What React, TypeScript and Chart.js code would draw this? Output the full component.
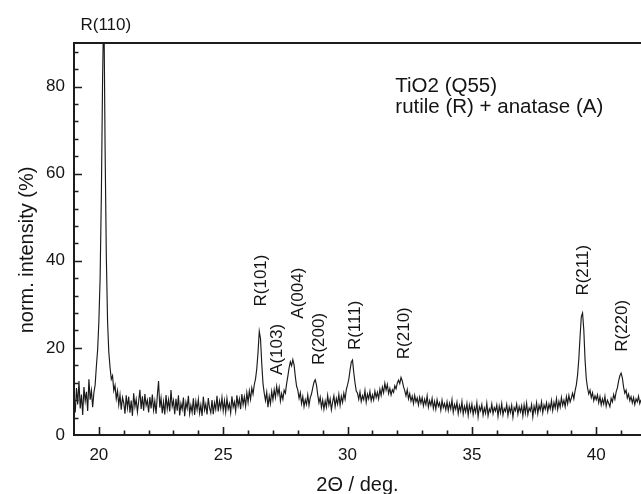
import React, { useEffect, useRef } from "react";
import { Chart, registerables } from "chart.js";

Chart.register(...registerables);

// ---- data -------------------------------------------------------------
const TWO_THETA_START = 19.0; // deg
const TWO_THETA_STEP = 0.05; // deg

// normalized intensity (%), one row per degree
const intensity: number[] = [
  // 19.00 - 19.95
  8.5, 5.2, 10.8, 7.0, 12.4, 6.1, 9.3, 4.6, 11.0, 7.8, 9.9, 5.5, 12.8, 8.1, 10.2, 6.4, 9.7, 11.5, 15.8, 19.5,
  // 20.00 - 20.95  R(110)
  26, 36, 55, 82, 100, 66, 41, 26, 19, 15.5, 12.8, 13.6, 10.2, 11.4, 8.3, 10.1, 6.9, 9.2, 5.8, 8.6,
  // 21.00 - 21.95
  7.4, 4.9, 9.1, 6.2, 8.8, 5.1, 7.9, 4.4, 9.6, 6.5, 8.2, 5.3, 7.7, 10.4, 6.0, 8.9, 5.6, 9.4, 6.8, 8.0,
  // 22.00 - 22.95
  5.2, 8.7, 6.1, 9.3, 5.7, 7.8, 4.9, 9.0, 12.4, 6.3, 8.5, 5.0, 7.6, 4.7, 9.2, 6.0, 8.1, 5.4, 10.3, 6.6,
  // 23.00 - 23.95
  7.9, 4.8, 8.3, 5.6, 9.1, 4.5, 7.2, 5.9, 8.6, 4.3, 7.5, 6.1, 9.0, 4.9, 6.8, 5.2, 8.4, 4.6, 7.7, 5.8,
  // 24.00 - 24.95
  8.2, 5.0, 6.9, 4.4, 8.8, 5.7, 7.1, 4.7, 8.5, 6.2, 5.1, 8.0, 4.8, 7.4, 5.9, 9.0, 5.4, 7.8, 6.1, 8.6,
  // 25.00 - 25.95
  5.6, 7.9, 5.3, 8.4, 6.0, 7.2, 5.1, 8.9, 6.4, 7.6, 5.5, 9.1, 6.7, 8.3, 5.9, 9.4, 7.0, 8.8, 6.6, 9.7,
  // 26.00 - 26.95  R(101)
  7.5, 10.1, 8.2, 10.8, 9.4, 11.6, 12.9, 15.2, 19.0, 23.8, 22.1, 16.4, 11.8, 9.6, 7.9, 9.8, 6.4, 8.9, 7.2, 10.0,
  // 27.00 - 27.95  A(103), A(004)
  8.1, 10.4, 8.6, 11.2, 9.3, 10.9, 7.8, 9.5, 8.2, 10.3, 9.6, 11.8, 13.5, 15.4, 16.8, 15.9, 17.3, 16.1, 13.4, 11.2,
  // 28.00 - 28.95  R(200)
  10.3, 8.4, 9.7, 7.2, 8.8, 6.5, 8.1, 7.0, 9.2, 6.8, 8.6, 9.4, 10.8, 12.1, 12.7, 11.5, 9.3, 7.4, 8.7, 6.3,
  // 29.00 - 29.95
  8.0, 5.9, 7.8, 6.4, 9.1, 6.9, 8.3, 5.8, 7.6, 9.0, 6.5, 8.4, 7.1, 9.3, 6.8, 8.9, 7.5, 9.6, 8.2, 10.4,
  // 30.00 - 30.95  R(111)
  11.5, 12.8, 14.9, 16.7, 17.2, 14.3, 12.0, 10.1, 9.6, 8.2, 9.9, 7.7, 9.0, 8.1, 10.2, 7.5, 9.4, 8.3, 10.0, 7.9,
  // 31.00 - 31.95
  9.2, 8.0, 10.1, 8.6, 9.8, 8.3, 10.5, 9.1, 11.0, 9.7, 11.9, 10.3, 11.6, 9.5, 10.7, 9.2, 10.4, 9.8, 11.3, 10.6,
  // 32.00 - 32.95  R(210)
  11.9, 12.6, 11.8, 13.2, 12.4, 11.1, 10.2, 9.0, 10.4, 8.3, 9.5, 7.8, 8.9, 7.2, 9.1, 7.6, 8.5, 6.9, 8.7, 7.3,
  // 33.00 - 33.95
  8.6, 6.7, 8.2, 7.0, 9.0, 6.4, 7.9, 6.8, 8.4, 6.1, 7.7, 5.9, 8.1, 6.6, 7.4, 5.7, 8.0, 6.3, 7.2, 5.8,
  // 34.00 - 34.95
  7.6, 5.6, 7.3, 6.0, 8.1, 5.2, 7.0, 5.9, 7.5, 4.9, 6.8, 5.5, 7.7, 4.8, 6.6, 5.3, 7.2, 4.5, 6.9, 5.4,
  // 35.00 - 35.95
  7.1, 4.7, 6.4, 5.2, 7.4, 4.2, 6.5, 5.6, 7.0, 4.6, 6.2, 5.0, 7.3, 4.4, 6.0, 5.3, 7.1, 4.9, 6.3, 5.5,
  // 36.00 - 36.95
  6.9, 4.3, 6.6, 5.1, 7.2, 4.6, 6.1, 5.4, 7.0, 4.5, 6.4, 5.2, 6.8, 4.1, 6.3, 5.6, 7.1, 4.8, 6.5, 5.3,
  // 37.00 - 37.95
  6.7, 4.4, 6.9, 5.0, 7.3, 4.7, 6.2, 5.5, 7.0, 4.2, 6.6, 5.3, 7.4, 4.9, 6.8, 5.7, 7.6, 5.1, 6.9, 5.9,
  // 38.00 - 38.95
  7.4, 5.4, 7.1, 6.0, 7.9, 5.6, 7.5, 6.2, 8.3, 5.9, 7.7, 6.4, 8.6, 6.8, 8.0, 6.5, 8.8, 7.2, 9.1, 7.6,
  // 39.00 - 39.95  R(211)
  8.5, 9.6, 8.3, 10.2, 11.5, 13.8, 17.5, 22.6, 27.2, 28.0, 24.1, 17.3, 12.9, 10.8, 9.4, 10.3, 8.6, 9.7, 7.9, 9.0,
  // 40.00 - 40.95
  8.1, 9.2, 7.4, 8.8, 6.9, 8.3, 7.1, 8.9, 6.6, 8.0, 7.3, 6.5, 8.4, 7.6, 9.3, 8.2, 9.9, 10.8, 12.4, 13.6,
  // 41.00 - 41.80  R(220)
  14.2, 13.1, 11.0, 9.6, 10.3, 8.5, 9.4, 7.9, 8.8, 7.4, 8.6, 7.0, 8.3, 7.6, 8.9, 7.2, 8.1,
];

const X_MIN = 19;
const X_MAX = 41.8;
const Y_MIN = 0;
const Y_MAX = 90;

const xMajorTicks = [20, 25, 30, 35, 40];
const xMinorTicks = [21, 22, 23, 24, 26, 27, 28, 29, 31, 32, 33, 34, 36, 37, 38, 39, 41];
const yMajorTicks = [0, 20, 40, 60, 80];
const yMinorTicks = [4, 8, 12, 16, 24, 28, 32, 36, 44, 48, 52, 56, 64, 68, 72, 76, 84, 88];

const xTitle = "2\u0398 / deg.";
const yTitle = "norm. intensity (%)";

// vertical reflection labels: text, 2θ position, intensity at the label's lower end
const peakLabels = ["R(101)", "A(103)", "A(004)", "R(200)", "R(111)", "R(210)", "R(211)", "R(220)"];
const peakLabelTheta = [26.55, 27.19, 28.01, 28.85, 30.3, 32.27, 39.47, 41.05];
const peakLabelBase = [29.5, 13.8, 26.7, 16.1, 19.5, 17.4, 32.0, 19.1];

// horizontal label above the clipped main peak
const mainPeakLabel = "R(110)";
const mainPeakTheta = 20.28;
const mainPeakLabelLevel = 92.9;

// sample description
const sampleLines = ["TiO2 (Q55)", "rutile (R) + anatase (A)"];
const sampleTheta = 31.92;
const sampleLevels = [78.7, 73.9];

// ---- styling ----------------------------------------------------------
const FONT = "'Liberation Sans', Arial, sans-serif";
const INK = "#141414";

const overlayPlugin = {
  id: "xrdOverlay",
  afterDraw(chart: any) {
    const { ctx, chartArea: ca } = chart;
    const xs = chart.scales.x;
    const ys = chart.scales.y;
    ctx.save();

    // frame: left, bottom, top (right side is cut off in the figure)
    ctx.strokeStyle = "#1c1c1c";
    ctx.lineWidth = 2;
    ctx.beginPath();
    ctx.moveTo(ca.right, ca.top);
    ctx.lineTo(ca.left, ca.top);
    ctx.lineTo(ca.left, ca.bottom);
    ctx.lineTo(ca.right, ca.bottom);
    ctx.stroke();

    // inward ticks
    ctx.lineWidth = 1.6;
    ctx.beginPath();
    for (const v of xMajorTicks) {
      const p = Math.round(xs.getPixelForValue(v)) + 0.5;
      ctx.moveTo(p, ca.bottom);
      ctx.lineTo(p, ca.bottom - 8);
    }
    for (const v of xMinorTicks) {
      const p = Math.round(xs.getPixelForValue(v)) + 0.5;
      ctx.moveTo(p, ca.bottom);
      ctx.lineTo(p, ca.bottom - 4.5);
    }
    for (const v of yMajorTicks) {
      if (v === Y_MIN) continue;
      const p = Math.round(ys.getPixelForValue(v)) + 0.5;
      ctx.moveTo(ca.left, p);
      ctx.lineTo(ca.left + 8, p);
    }
    for (const v of yMinorTicks) {
      const p = Math.round(ys.getPixelForValue(v)) + 0.5;
      ctx.moveTo(ca.left, p);
      ctx.lineTo(ca.left + 4.5, p);
    }
    ctx.stroke();

    ctx.fillStyle = INK;

    // axis titles
    ctx.font = `20px ${FONT}`;
    ctx.textAlign = "center";
    ctx.textBaseline = "alphabetic";
    ctx.fillText(xTitle, (ca.left + ca.right) / 2, ca.bottom + 56);
    ctx.save();
    ctx.translate(ca.left - 41.5, (ca.top + ca.bottom) / 2 + 11);
    ctx.rotate(-Math.PI / 2);
    ctx.fillText(yTitle, 0, 0);
    ctx.restore();

    // main peak label
    ctx.font = `17px ${FONT}`;
    ctx.textAlign = "center";
    ctx.textBaseline = "alphabetic";
    ctx.fillText(mainPeakLabel, xs.getPixelForValue(mainPeakTheta), ys.getPixelForValue(mainPeakLabelLevel));

    // vertical peak labels
    ctx.textAlign = "left";
    ctx.textBaseline = "middle";
    peakLabels.forEach((t, i) => {
      ctx.save();
      ctx.translate(xs.getPixelForValue(peakLabelTheta[i]), ys.getPixelForValue(peakLabelBase[i]));
      ctx.rotate(-Math.PI / 2);
      ctx.fillText(t, 0, 0);
      ctx.restore();
    });

    // sample description
    ctx.font = `20.5px ${FONT}`;
    ctx.textAlign = "left";
    ctx.textBaseline = "alphabetic";
    sampleLines.forEach((t, i) => {
      ctx.fillText(t, xs.getPixelForValue(sampleTheta), ys.getPixelForValue(sampleLevels[i]));
    });

    ctx.restore();
  },
};

export default function App() {
  const canvasRef = useRef<HTMLCanvasElement | null>(null);

  useEffect(() => {
    const canvas = canvasRef.current;
    if (!canvas) return;
    Chart.defaults.font.family = FONT;
    const points = intensity.map((v, i) => ({ x: TWO_THETA_START + i * TWO_THETA_STEP, y: v }));
    const chart = new Chart(canvas, {
      type: "line",
      data: {
        datasets: [
          {
            data: points,
            borderColor: "#1a1a1a",
            borderWidth: 1.15,
            pointRadius: 0,
            tension: 0,
            fill: false,
          },
        ],
      },
      options: {
        responsive: false,
        animation: false,
        devicePixelRatio: 1,
        events: [],
        layout: { padding: { top: 43, right: 0, bottom: 0, left: 0 } },
        plugins: {
          legend: { display: false },
          tooltip: { enabled: false },
          title: { display: false },
        },
        scales: {
          x: {
            type: "linear",
            min: X_MIN,
            max: X_MAX,
            grid: { display: false, drawTicks: false },
            border: { display: false },
            afterBuildTicks: (s: any) => {
              s.ticks = xMajorTicks.map((v) => ({ value: v }));
            },
            afterFit: (s: any) => {
              s.height = 59;
            },
            ticks: {
              color: INK,
              font: { size: 17, family: FONT },
              padding: 10,
              maxRotation: 0,
              callback: (v: any) => String(v),
            },
          },
          y: {
            type: "linear",
            min: Y_MIN,
            max: Y_MAX,
            grid: { display: false, drawTicks: false },
            border: { display: false },
            afterBuildTicks: (s: any) => {
              s.ticks = yMajorTicks.map((v) => ({ value: v }));
            },
            afterFit: (s: any) => {
              s.width = 74;
            },
            ticks: {
              color: INK,
              font: { size: 17, family: FONT },
              padding: 9,
              callback: (v: any) => String(v),
            },
          },
        },
      },
      plugins: [overlayPlugin],
    });
    return () => chart.destroy();
  }, []);

  return (
    <div style={{ position: "fixed", left: 0, top: 0, width: 641, height: 494, background: "#fff" }}>
      <canvas ref={canvasRef} width={641} height={494} style={{ display: "block" }} />
    </div>
  );
}
